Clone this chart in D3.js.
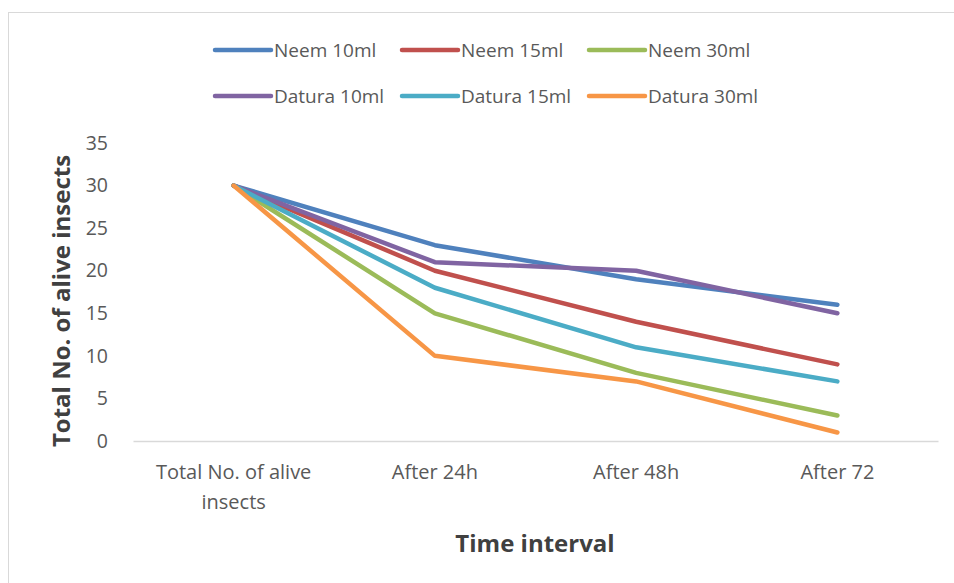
<!DOCTYPE html>
<html>
<head>
<meta charset="utf-8">
<script src="https://cdn.jsdelivr.net/npm/d3@7"></script>
<style>
  body { margin: 0; background: #fff; }
  text { font-family: "Open Sans", "Noto Sans", sans-serif; }
</style>
</head>
<body>
<svg width="954" height="583"></svg>
<script>
var categories = ["Total No. of alive insects", "After 24h", "After 48h", "After 72"];
var seriesNames = ["Neem 10ml", "Neem 15ml", "Neem 30ml", "Datura 10ml", "Datura 15ml", "Datura 30ml"];
var neem10 = [30, 23, 19, 16];
var neem15 = [30, 20, 14, 9];
var neem30 = [30, 15, 8, 3];
var datura10 = [30, 21, 20, 15];
var datura15 = [30, 18, 11, 7];
var datura30 = [30, 10, 7, 1];
var yTicks = [0, 5, 10, 15, 20, 25, 30, 35];
var colors = ["#4F81BD", "#C0504D", "#9BBB59", "#8064A2", "#4BACC6", "#F79646"];

var series = [neem10, neem15, neem30, datura10, datura15, datura30];

var svg = d3.select("svg");

// chart frame
svg.append("rect")
  .attr("x", 8.5).attr("y", 12.5)
  .attr("width", 960).attr("height", 600)
  .attr("fill", "none").attr("stroke", "#d9d9d9").attr("stroke-width", 1);

var x = d3.scaleBand().domain(categories).range([133, 938]);
var y = d3.scaleLinear().domain([0, 35]).range([441, 143]);

// y axis labels (no line)
var yAxis = svg.append("g")
  .attr("transform", "translate(133,0)")
  .call(d3.axisLeft(y).tickValues(yTicks).tickSize(0).tickPadding(25));
yAxis.select(".domain").remove();
yAxis.selectAll("text")
  .style("font-family", "'Open Sans', sans-serif")
  .style("font-size", "19.5px")
  .attr("fill", "#595959");

// x axis
var xAxis = svg.append("g")
  .attr("transform", "translate(0,441)")
  .call(d3.axisBottom(x).tickSize(0).tickPadding(0));
xAxis.select(".domain").attr("stroke", "#d9d9d9").attr("stroke-width", 1.5);
xAxis.selectAll(".tick text").remove();
xAxis.selectAll(".tick").each(function(d) {
  var t = d3.select(this).append("text")
    .attr("text-anchor", "middle")
    .attr("fill", "#595959")
    .style("font-size", "20px")
    .style("font-family", "'Open Sans', sans-serif");
  var lines = d === "Total No. of alive insects" ? ["Total No. of alive", "insects"] : [d];
  lines.forEach(function(l, i) {
    t.append("tspan").attr("x", 0).attr("y", 38 + i * 30).text(l);
  });
});

// lines
var line = d3.line()
  .x(function(d, i) { return x(categories[i]) + x.bandwidth() / 2; })
  .y(function(d) { return y(d); });

svg.append("g").selectAll("path").data(series).enter().append("path")
  .attr("d", line)
  .attr("fill", "none")
  .attr("stroke", function(d, i) { return colors[i]; })
  .attr("stroke-width", 4.5)
  .attr("stroke-linecap", "round")
  .attr("stroke-linejoin", "round");

// axis titles
svg.append("text")
  .attr("transform", "translate(70,301) rotate(-90)")
  .attr("text-anchor", "middle")
  .attr("fill", "#404040")
  .style("font-size", "24px").style("font-weight", "bold")
  .text("Total No. of alive insects");

svg.append("text")
  .attr("x", 535).attr("y", 552)
  .attr("text-anchor", "middle")
  .attr("fill", "#404040")
  .style("font-size", "24px").style("font-weight", "bold")
  .text("Time interval");

// legend
var legend = svg.append("g").selectAll("g").data(seriesNames).enter().append("g")
  .attr("transform", function(d, i) {
    return "translate(" + (215 + (i % 3) * 187) + "," + (50 + Math.floor(i / 3) * 46) + ")";
  });
legend.append("line")
  .attr("x1", 0).attr("x2", 56).attr("y1", 0).attr("y2", 0)
  .attr("stroke", function(d, i) { return colors[i]; })
  .attr("stroke-width", 4.5)
  .attr("stroke-linecap", "round");
legend.append("text")
  .attr("x", 59).attr("y", 7)
  .attr("fill", "#595959")
  .style("font-size", "19px")
  .text(function(d) { return d; });
</script>
</body>
</html>
